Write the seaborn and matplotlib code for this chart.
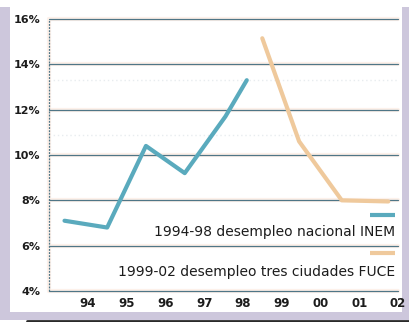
import matplotlib
matplotlib.use("Agg")
import matplotlib.pyplot as plt
import numpy as np
import pandas as pd
import seaborn as sns
from matplotlib.patches import Rectangle
from matplotlib.lines import Line2D

# Unemployment rate (%) by position along the year axis
inem_years = [1993.4, 1994.5, 1995.5, 1996.5, 1997.55, 1998.1]
inem_rate = [7.1, 6.8, 10.4, 9.2, 11.7, 13.3]
fuce_years = [1998.5, 1999.45, 2000.55, 2001.75]
fuce_rate = [15.15, 10.6, 8.0, 7.95]

tick_years = list(range(1994, 2003))
tick_labels = ["94", "95", "96", "97", "98", "99", "00", "01", "02"]
y_ticks = [4, 6, 8, 10, 12, 14, 16]
y_labels = [f"{v}%" for v in y_ticks]
series_labels = ["1994-98 desempleo nacional INEM",
                 "1999-02 desempleo tres ciudades FUCE"]

BLUE = "#5aaabd"
ORANGE = "#efc99c"
GRID = "#4f7687"
HALO = "#fdf1ea"
FRAME = "#cdc7dc"
TEXT = "#1c1c1c"

df = pd.DataFrame({
    "year": inem_years + fuce_years,
    "rate": inem_rate + fuce_rate,
    "serie": [series_labels[0]] * len(inem_years) + [series_labels[1]] * len(fuce_years),
})

sns.set_theme(style="white")
plt.rcParams["font.family"] = ["DejaVu Sans"]

W, H = 409, 322
fig = plt.figure(figsize=(W / 100, H / 100), dpi=100)
fig.patch.set_facecolor("white")

# lavender frame around the white panel
fig.add_artist(Rectangle((0, 2 / H), 1, 1 - 9 / H, transform=fig.transFigure,
                         facecolor=FRAME, edgecolor="none", zorder=0))
fig.add_artist(Rectangle((10 / W, 10 / H), 392 / W, 1 - 10 / H, transform=fig.transFigure,
                         facecolor="white", edgecolor="none", zorder=0))
fig.add_artist(Line2D([27 / W, 1], [1 / H, 1 / H], transform=fig.transFigure,
                      color="#2a2a2a", lw=2, zorder=1))

ax = fig.add_axes([49 / W, 31 / H, 349 / W, 272 / H])
ax.patch.set_alpha(0)

# thin grid with a soft warm halo
for v in y_ticks:
    ax.axhline(v, color=HALO, lw=3, zorder=1, clip_on=False)
    ax.axhline(v, color=GRID, lw=0.9, zorder=2, clip_on=False)
for v in [13.3, 10.9]:
    ax.axhline(v, color="#e8ecef", lw=1, ls=(0, (1, 2)), zorder=1)
ax.axvline(1993, color=HALO, lw=3, zorder=1, clip_on=False)
ax.axvline(1993, color=GRID, lw=0.9, ls=(0, (1.5, 1)), zorder=2, clip_on=False)

sns.lineplot(data=df, x="year", y="rate", hue="serie", palette=[BLUE, ORANGE],
             linewidth=3, legend=False, sort=False, ax=ax, zorder=3)

ax.set_xlim(1993, 2002)
ax.set_ylim(4, 16)
for s in ax.spines.values():
    s.set_visible(False)

ax.set_xticks(tick_years, tick_labels)
ax.set_yticks(y_ticks, y_labels)
ax.tick_params(axis="x", direction="in", length=4, width=1, color=GRID, pad=4,
               labelsize=8.5, labelcolor=TEXT)
ax.tick_params(axis="y", length=0, pad=6, labelsize=8, labelcolor=TEXT)
for lab in ax.get_xticklabels() + ax.get_yticklabels():
    lab.set_fontweight("bold")
ax.set_xlabel("")
ax.set_ylabel("")

# key: short coloured dash above each description
ax.plot([2001.28, 2001.93], [7.35, 7.35], color=BLUE, lw=3, solid_capstyle="butt", zorder=3)
ax.plot([2001.28, 2001.93], [5.68, 5.68], color=ORANGE, lw=3, solid_capstyle="butt", zorder=3)
ax.text(2001.92, 6.6, series_labels[0], ha="right", va="center", fontsize=10, color=TEXT)
ax.text(2001.92, 4.84, series_labels[1], ha="right", va="center", fontsize=10, color=TEXT)

fig.savefig("out.png", dpi=100)
